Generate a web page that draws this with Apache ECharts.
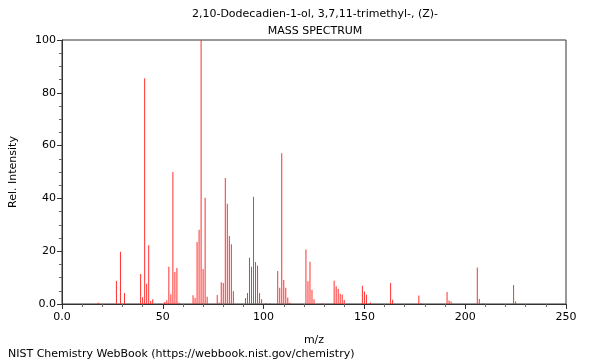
<!DOCTYPE html>
<html>
<head>
<meta charset="utf-8">
<script src="https://cdn.jsdelivr.net/npm/echarts@6/dist/echarts.min.js"></script>
<style>html,body{margin:0;padding:0;background:#fff}#c{width:600px;height:360px}</style>
</head>
<body>
<div id="c"></div>
<script>
const titleLines = ["2,10-Dodecadien-1-ol, 3,7,11-trimethyl-, (Z)-", "MASS SPECTRUM"];
const footer = "NIST Chemistry WebBook (https://webbook.nist.gov/chemistry)";
const mz = [18,27,29,31,39,40,41,42,43,44,45,51,52,53,54,55,56,57,58,
  65,66,67,68,69,70,71,72,77,78,79,80,81,82,83,84,85,
  91,92,93,94,95,96,97,98,99,101,103,107,108,109,110,111,112,113,
  121,122,123,124,125,129,135,136,137,138,139,140,149,150,151,153,
  163,164,177,178,191,192,193,206,207,209,224,225];
const intensity = [0.5,8.7,19.8,4.2,11.4,2.6,85.5,7.7,22.3,1.1,1.8,0.8,1.4,14.1,3.7,50,12.1,13.6,0.5,
  3.3,2.3,23.5,28.1,100,13.3,40.2,2.7,3.4,0.5,8.2,8.0,47.7,38,25.8,22.6,4.8,
  2.3,4.2,17.5,14.1,40.6,15.9,14.5,4.2,1.8,0.4,0.3,12.5,6.2,57.1,9.1,6.2,2.5,0.5,
  20.6,8.6,16.0,5.4,1.8,0.3,8.8,6.7,5.8,3.9,3.5,1.5,6.9,4.7,3.5,0.6,
  8.0,1.6,3.2,0.3,4.5,1.3,0.9,13.8,1.9,0.3,7.2,0.9];

const chart = echarts.init(document.getElementById('c'), null, {renderer: 'canvas'});
const font = 'DejaVu Sans';
chart.setOption({
  animation: false,
  textStyle: {fontFamily: font},
  title: [
    {text: titleLines[0], left: 310, top: 4, textAlign: 'center',
     textStyle: {fontFamily: font, fontSize: 11, fontWeight: 'normal', color: '#000'}},
    {text: titleLines[1], left: 310, top: 21, textAlign: 'center',
     textStyle: {fontFamily: font, fontSize: 11, fontWeight: 'normal', color: '#000'}},
    {text: footer, left: 3, top: 344,
     textStyle: {fontFamily: font, fontSize: 11, fontWeight: 'normal', color: '#000'}}
  ],
  grid: {left: 61, right: 34, top: 40, bottom: 56, show: true, borderColor: '#333', borderWidth: 1, backgroundColor: 'transparent'},
  xAxis: {
    type: 'value', min: 0, max: 250, interval: 50,
    name: 'm/z', nameLocation: 'middle', nameGap: 31,
    nameTextStyle: {fontFamily: font, fontSize: 11, color: '#000'},
    axisLine: {show: true, onZero: false, lineStyle: {color: '#333'}},
    axisTick: {show: true, length: 5, lineStyle: {color: '#333'}},
    minorTick: {show: true, splitNumber: 5, length: 3, lineStyle: {color: '#666'}},
    splitLine: {show: false},
    axisLabel: {fontFamily: font, fontSize: 11, color: '#000', margin: 8,
      formatter: v => v === 0 ? '0.0' : String(v)}
  },
  yAxis: {
    type: 'value', min: 0, max: 100, interval: 20,
    name: 'Rel. Intensity', nameLocation: 'middle', nameGap: 43, nameRotate: 90,
    nameTextStyle: {fontFamily: font, fontSize: 11, color: '#000'},
    axisLine: {show: true, lineStyle: {color: '#333'}},
    axisTick: {show: true, length: 5, lineStyle: {color: '#333'}},
    minorTick: {show: true, splitNumber: 4, length: 3, lineStyle: {color: '#666'}},
    splitLine: {show: false},
    axisLabel: {fontFamily: font, fontSize: 11, color: '#000', margin: 6,
      formatter: v => v === 0 ? '0.0' : String(v)}
  },
  series: [{
    type: 'bar',
    barWidth: 1,
    itemStyle: {color: '#ff3030'},
    data: mz.map((m, i) => [m, intensity[i]])
  }]
});
</script>
</body>
</html>
